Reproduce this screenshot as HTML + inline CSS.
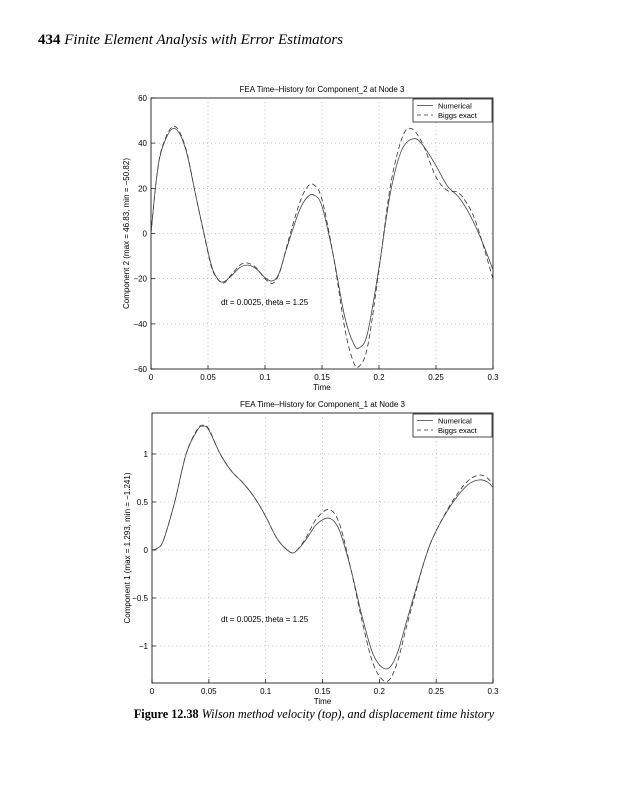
<!DOCTYPE html>
<html><head><meta charset="utf-8"><style>
body{margin:0;background:#fff;}
svg{display:block}
</style></head><body>
<svg id="s" width="617" height="800" xmlns="http://www.w3.org/2000/svg" font-family="Liberation Sans, sans-serif">
<text x="38" y="44" font-family="Liberation Serif, serif" font-size="15" font-style="italic"><tspan font-weight="bold" font-style="normal">434</tspan> Finite Element Analysis with Error Estimators</text>
<text x="314" y="718" text-anchor="middle" font-family="Liberation Serif, serif" font-size="12.2" font-style="italic"><tspan font-weight="bold" font-style="normal">Figure 12.38</tspan> Wilson method velocity (top), and displacement time history</text>
<g id="g"></g>
</svg>
<script>
var g=document.getElementById('g'),h='';
function cr(pts){var d='M'+pts[0][0].toFixed(1)+','+pts[0][1].toFixed(1);
for(var i=0;i<pts.length-1;i++){var p0=pts[Math.max(0,i-1)],p1=pts[i],p2=pts[i+1],p3=pts[Math.min(pts.length-1,i+2)];
d+=' C'+(p1[0]+(p2[0]-p0[0])/6).toFixed(1)+','+(p1[1]+(p2[1]-p0[1])/6).toFixed(1)+' '+(p2[0]-(p3[0]-p1[0])/6).toFixed(1)+','+(p2[1]-(p3[1]-p1[1])/6).toFixed(1)+' '+p2[0].toFixed(1)+','+p2[1].toFixed(1);}
return d;}
function chart(o){
var X=function(t){return o.x0+(o.x1-o.x0)*t/0.3},Y=function(v){return o.yz-v*o.k};
h+='<rect x="'+o.x0+'" y="'+o.y0+'" width="'+(o.x1-o.x0)+'" height="'+(o.y1-o.y0)+'" fill="none" stroke="#000" stroke-width="0.8"/>';
for(var i=0;i<=6;i++){var t=i*0.05,x=X(t);
if(i>0&&i<6)h+='<line x1="'+x+'" y1="'+o.y0+'" x2="'+x+'" y2="'+o.y1+'" stroke="#999" stroke-width="0.6" stroke-dasharray="1,3"/>';
h+='<line x1="'+x+'" y1="'+o.y1+'" x2="'+x+'" y2="'+(o.y1-4)+'" stroke="#000" stroke-width="0.7"/>';
h+='<text x="'+x+'" y="'+(o.y1+11)+'" font-size="8" text-anchor="middle">'+['0','0.05','0.1','0.15','0.2','0.25','0.3'][i]+'</text>';}
o.yt.forEach(function(v){var y=Y(v[0]);
if(y>o.y0+1&&y<o.y1-1)h+='<line x1="'+o.x0+'" y1="'+y+'" x2="'+o.x1+'" y2="'+y+'" stroke="#999" stroke-width="0.6" stroke-dasharray="1,3"/>';
h+='<line x1="'+o.x0+'" y1="'+y+'" x2="'+(o.x0+4)+'" y2="'+y+'" stroke="#000" stroke-width="0.7"/>';
h+='<text x="'+(o.x0-4)+'" y="'+(y+3)+'" font-size="8" text-anchor="end">'+v[1]+'</text>';});
h+='<text x="'+((o.x0+o.x1)/2)+'" y="'+(o.y1+21)+'" font-size="8" text-anchor="middle">Time</text>';
h+='<text x="'+((o.x0+o.x1)/2)+'" y="'+(o.y0-6)+'" font-size="8" text-anchor="middle">'+o.title+'</text>';
h+='<text transform="translate('+(o.x0-22)+','+((o.y0+o.y1)/2)+') rotate(-90)" font-size="8" text-anchor="middle">'+o.ylab+'</text>';
h+='<text x="221" y="'+o.ann+'" font-size="8">dt = 0.0025, theta =  1.25</text>';
var m=function(a){return a.map(function(p){return [X(p[0]),Y(p[1])]})};
h+='<path d="'+cr(m(o.ex))+'" fill="none" stroke="#333" stroke-width="0.8" stroke-dasharray="5,3"/>';
h+='<path d="'+cr(m(o.nu))+'" fill="none" stroke="#444" stroke-width="0.8"/>';
var ly=o.y0+1;
h+='<rect x="413" y="'+ly+'" width="79" height="23" fill="#fff" stroke="#000" stroke-width="0.7"/>';
h+='<line x1="417" y1="'+(ly+6.5)+'" x2="433" y2="'+(ly+6.5)+'" stroke="#444" stroke-width="0.8"/>';
h+='<line x1="417" y1="'+(ly+16)+'" x2="433" y2="'+(ly+16)+'" stroke="#333" stroke-width="0.8" stroke-dasharray="4,3"/>';
h+='<text x="438" y="'+(ly+9.5)+'" font-size="7.5">Numerical</text>';
h+='<text x="438" y="'+(ly+19)+'" font-size="7.5">Biggs exact</text>';
}
chart({x0:151,x1:493,y0:98,y1:369,yz:233.5,k:2.26,title:'FEA Time\u2013History for Component_2 at Node 3',
ylab:'Component 2 (max = 46.83, min = \u221250.82)',ann:305,
yt:[[60,'60'],[40,'40'],[20,'20'],[0,'0'],[-20,'\u221220'],[-40,'\u221240'],[-60,'\u221260']],
nu:[[0,0],[0.005,25],[0.01,38],[0.02,46.5],[0.03,38],[0.04,15],[0.05,-8],[0.055,-17],[0.062,-21.5],[0.07,-19],[0.078,-15],[0.085,-14],[0.092,-15.5],[0.1,-19.5],[0.106,-21],[0.112,-18],[0.12,-5],[0.13,10],[0.137,16],[0.143,17],[0.15,12],[0.16,-10],[0.17,-37],[0.178,-49],[0.183,-50.5],[0.19,-44],[0.2,-15],[0.21,18],[0.22,37],[0.231,42],[0.24,38],[0.25,30],[0.26,21],[0.27,16],[0.28,8],[0.29,-3],[0.3,-16]],
ex:[[0,0],[0.005,25],[0.01,38.5],[0.02,47.5],[0.03,38.5],[0.04,15],[0.05,-8.5],[0.055,-17.5],[0.063,-22],[0.07,-18.5],[0.078,-14],[0.084,-13],[0.092,-15],[0.1,-20],[0.107,-22],[0.113,-17],[0.12,-4],[0.13,13],[0.137,20.5],[0.143,21.5],[0.15,15],[0.16,-10],[0.17,-42],[0.177,-56],[0.182,-59],[0.19,-50],[0.2,-16],[0.21,21],[0.22,42],[0.228,46.5],[0.238,40],[0.25,25],[0.26,19],[0.268,18.5],[0.275,15],[0.285,5],[0.3,-20]]});
chart({x0:152,x1:493,y0:413,y1:683,yz:550,k:96,title:'FEA Time\u2013History for Component_1 at Node 3',
ylab:'Component 1 (max = 1.293, min = \u22121.241)',ann:622,
yt:[[1,'1'],[0.5,'0.5'],[0,'0'],[-0.5,'\u22120.5'],[-1,'\u22121']],
nu:[[0,0],[0.005,0.02],[0.01,0.1],[0.02,0.5],[0.03,1.0],[0.04,1.25],[0.045,1.29],[0.05,1.25],[0.06,1.0],[0.07,0.82],[0.08,0.7],[0.09,0.55],[0.1,0.35],[0.11,0.12],[0.12,-0.01],[0.126,-0.02],[0.135,0.1],[0.145,0.27],[0.156,0.33],[0.165,0.2],[0.175,-0.2],[0.185,-0.7],[0.195,-1.1],[0.206,-1.24],[0.215,-1.1],[0.225,-0.7],[0.24,-0.1],[0.25,0.2],[0.265,0.5],[0.278,0.68],[0.288,0.73],[0.295,0.71],[0.3,0.65]],
ex:[[0,0],[0.005,0.02],[0.01,0.1],[0.02,0.5],[0.03,1.0],[0.04,1.26],[0.045,1.3],[0.05,1.26],[0.06,1.0],[0.07,0.82],[0.08,0.7],[0.09,0.55],[0.1,0.35],[0.11,0.12],[0.12,-0.01],[0.126,-0.02],[0.135,0.12],[0.145,0.33],[0.156,0.42],[0.165,0.27],[0.175,-0.2],[0.185,-0.75],[0.195,-1.2],[0.206,-1.37],[0.215,-1.2],[0.225,-0.75],[0.24,-0.1],[0.25,0.2],[0.265,0.52],[0.278,0.72],[0.288,0.78],[0.295,0.75],[0.3,0.68]]});
g.innerHTML=h;
</script>
</body></html>
